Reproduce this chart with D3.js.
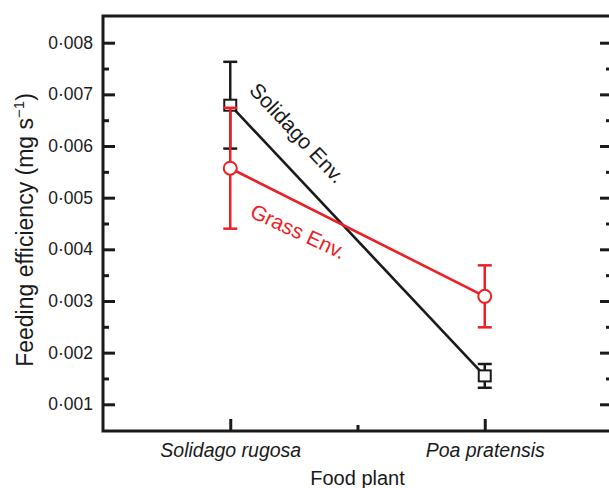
<!DOCTYPE html>
<html lang="en">
<head>
<meta charset="UTF-8">
<title>Feeding efficiency</title>
<style>
  html, body { margin: 0; padding: 0; background: #fff; overflow: hidden; }
  svg { display: block; font-family: "Liberation Sans", Arial, sans-serif; }
</style>
</head>
<body>
<svg id="chart" width="609" height="488"></svg>
<script src="https://d3js.org/d3.v7.min.js"></script>
<script>
// data
const plants = ["Solidago rugosa", "Poa pratensis"];
const solidagoMean = [0.00679, 0.00155];
const solidagoSE = [0.00084, 0.00023];
const grassMean = [0.00557, 0.00309];
const grassSE = [0.00117, 0.00060];
const yTicks = [0.001, 0.002, 0.003, 0.004, 0.005, 0.006, 0.007, 0.008];
const yMinor = [0.0015, 0.0025, 0.0035, 0.0045, 0.0055, 0.0065, 0.0075];

const plotL = 103, plotR = 612, plotT = 16, plotB = 431;
const red = "#ec1f26", black = "#1a1a1a";

const svg = d3.select("#chart");

const x = d3.scalePoint().domain(plants).range([plotL, plotR]).padding(0.5);
const y = d3.scaleLinear().domain([0.000483, 0.008517]).range([plotB, plotT]);

const fmt = v => d3.format(".3f")(v).replace(".", "\u00b7");

// left axis, ticks inside
const gl = svg.append("g").attr("transform", `translate(${plotL},0)`)
  .call(d3.axisLeft(y).tickValues(yTicks).tickFormat(fmt).tickSizeInner(-12).tickSizeOuter(0).tickPadding(10));
svg.append("g").attr("transform", `translate(${plotL},0)`)
  .call(d3.axisLeft(y).tickValues(yMinor).tickFormat("").tickSizeInner(-6).tickSizeOuter(0));
// right axis
svg.append("g").attr("transform", `translate(${plotR},0)`)
  .call(d3.axisRight(y).tickValues(yTicks).tickFormat("").tickSizeInner(-12).tickSizeOuter(0));
svg.append("g").attr("transform", `translate(${plotR},0)`)
  .call(d3.axisRight(y).tickValues(yMinor).tickFormat("").tickSizeInner(-6).tickSizeOuter(0));
// bottom axis
const gb = svg.append("g").attr("transform", `translate(0,${plotB})`)
  .call(d3.axisBottom(x).tickSizeInner(-12).tickSizeOuter(0).tickPadding(12));
svg.append("g").attr("transform", `translate(0,${plotB})`)
  .call(d3.axisBottom(d3.scaleLinear().domain([0, 1]).range([plotL, plotR]))
    .tickValues([0.5]).tickFormat("").tickSizeInner(-6).tickSizeOuter(0));

svg.selectAll(".domain").remove();
svg.selectAll(".tick line").attr("stroke", black).attr("stroke-width", 3);
gl.selectAll(".tick text").attr("font-size", 17.5).attr("fill", black)
  .attr("font-family", "'Liberation Sans', Arial, sans-serif");
gb.selectAll(".tick text").attr("font-size", 19.5).attr("font-style", "italic").attr("fill", black)
  .attr("font-family", "'Liberation Sans', Arial, sans-serif");

// frame
svg.append("rect").attr("x", plotL).attr("y", plotT)
  .attr("width", plotR - plotL).attr("height", plotB - plotT)
  .attr("fill", "none").attr("stroke", black).attr("stroke-width", 3);

// axis titles
svg.append("text").attr("x", (310 + 405) / 2).attr("y", 485)
  .attr("text-anchor", "middle").attr("font-size", 20).attr("fill", black)
  .text("Food plant");

const yt = svg.append("text")
  .attr("transform", `translate(33,${(90 + 370) / 2}) rotate(-90)`)
  .attr("text-anchor", "middle").attr("font-size", 23).attr("fill", black);
yt.append("tspan").text("Feeding efficiency (mg s");
yt.append("tspan").attr("font-size", 15).attr("dy", -9).text("\u22121");
yt.append("tspan").attr("dy", 9).text(")");

const line = d3.line().x((d, i) => x(plants[i])).y(d => y(d));

function series(mean, se, color, shape) {
  const g = svg.append("g");
  g.append("path").datum(mean).attr("d", line)
    .attr("fill", "none").attr("stroke", color).attr("stroke-width", 2.6);
  const e = g.selectAll(".err").data(mean).join("g");
  e.append("line")
    .attr("x1", (d, i) => x(plants[i])).attr("x2", (d, i) => x(plants[i]))
    .attr("y1", (d, i) => y(d + se[i])).attr("y2", (d, i) => y(d - se[i]));
  e.append("line")
    .attr("x1", (d, i) => x(plants[i]) - 7).attr("x2", (d, i) => x(plants[i]) + 7)
    .attr("y1", (d, i) => y(d + se[i])).attr("y2", (d, i) => y(d + se[i]));
  e.append("line")
    .attr("x1", (d, i) => x(plants[i]) - 7).attr("x2", (d, i) => x(plants[i]) + 7)
    .attr("y1", (d, i) => y(d - se[i])).attr("y2", (d, i) => y(d - se[i]));
  e.selectAll("line").attr("stroke", color).attr("stroke-width", 2.5);
  if (shape === "square") {
    g.selectAll(".m").data(mean).join("rect")
      .attr("x", (d, i) => x(plants[i]) - 6).attr("y", d => y(d) - 5.5)
      .attr("width", 12).attr("height", 11)
      .attr("fill", "#fff").attr("stroke", color).attr("stroke-width", 2);
  } else {
    g.selectAll(".m").data(mean).join("circle")
      .attr("cx", (d, i) => x(plants[i])).attr("cy", d => y(d)).attr("r", 6.5)
      .attr("fill", "#fff").attr("stroke", color).attr("stroke-width", 2);
  }
}

series(solidagoMean, solidagoSE, black, "square");
series(grassMean, grassSE, red, "circle");

// in-plot labels
svg.append("text").attr("transform", "translate(292,138) rotate(47)")
  .attr("text-anchor", "middle").attr("font-size", 21).attr("fill", black)
  .text("Solidago Env.");
svg.append("text").attr("transform", "translate(295,238) rotate(25)")
  .attr("text-anchor", "middle").attr("font-size", 21).attr("fill", red)
  .text("Grass Env.");
</script>
</body>
</html>
